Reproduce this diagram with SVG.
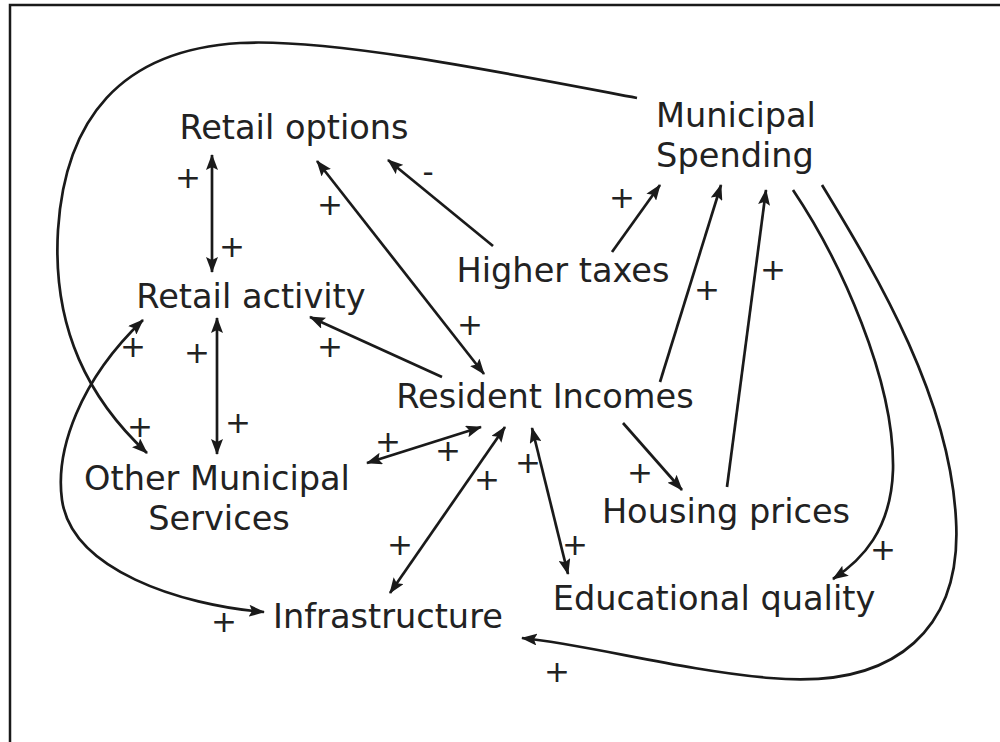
<svg xmlns="http://www.w3.org/2000/svg" width="1000" height="742" viewBox="0 0 1000 742">
  <style>
    .lbl { font-family: "DejaVu Sans", Verdana, sans-serif; font-size: 33.6px; fill: #222; text-anchor: middle; }
    .sgn { font-family: "DejaVu Sans", Verdana, sans-serif; font-size: 31px; fill: #222; text-anchor: middle; }
    .ln { fill: none; stroke: #1a1a1a; stroke-width: 2.7; }
    .one { marker-end: url(#ah); }
    .two { marker-start: url(#ah); marker-end: url(#ah); }
  </style>
  <defs>
    <marker id="ah" viewBox="0 0 16 12" refX="15" refY="6" markerWidth="16" markerHeight="12" markerUnits="userSpaceOnUse" orient="auto-start-reverse">
      <path d="M0,0 L16,6 L0,12 L3,6 Z" fill="#1a1a1a"/>
    </marker>
  </defs>

  <rect width="1000" height="742" fill="#fff"/>
  <!-- frame -->
  <path d="M10,742 L10,5 L1000,5" fill="none" stroke="#1a1a1a" stroke-width="2.5"/>

  <g id="connectors">
    <!-- Municipal Spending -> Other Municipal Services (outer loop) -->
    <path class="ln one" d="M637,98 C500,72 330,38 240,43 C120,50 65,120 58,230 C52,330 90,400 147,453"/>
    <!-- Retail activity <-> Infrastructure -->
    <path class="ln two" d="M143,320 C80,380 55,450 62,500 C72,570 180,605 264,612"/>
    <!-- Retail options <-> Retail activity -->
    <path class="ln two" d="M212,155 L212,272"/>
    <!-- Retail activity <-> Other Municipal Services -->
    <path class="ln two" d="M217,318 L217,454"/>
    <!-- Retail options <-> Resident Incomes -->
    <path class="ln two" d="M317,161 L484,374"/>
    <!-- Higher taxes -> Retail options -->
    <path class="ln one" d="M493,246 L388,160"/>
    <!-- Higher taxes -> Municipal Spending -->
    <path class="ln one" d="M612,252 L660,185"/>
    <!-- Resident Incomes -> Retail activity -->
    <path class="ln one" d="M442,377 L310,317"/>
    <!-- Resident Incomes -> Municipal Spending -->
    <path class="ln one" d="M660,382 L721,185"/>
    <!-- Housing prices -> Municipal Spending -->
    <path class="ln one" d="M727,487 L766,190"/>
    <!-- Municipal Spending -> Educational quality -->
    <path class="ln one" d="M793,190 C840,260 895,380 893,470 C891,530 862,560 833,579"/>
    <!-- Municipal Spending -> Infrastructure -->
    <path class="ln one" d="M822,185 C880,280 950,400 956,520 C962,625 900,690 770,678 C680,670 590,645 522,638"/>
    <!-- Resident Incomes <-> Other Municipal Services -->
    <path class="ln two" d="M367,463 L481,427"/>
    <!-- Resident Incomes <-> Infrastructure -->
    <path class="ln two" d="M505,427 L390,593"/>
    <!-- Resident Incomes <-> Educational quality -->
    <path class="ln two" d="M532,428 L568,574"/>
    <!-- Resident Incomes -> Housing prices -->
    <path class="ln one" d="M623,423 L682,490"/>
  </g>

  <g id="polarity">
    <text class="sgn" x="188" y="188">+</text>
    <text class="sgn" x="232" y="257">+</text>
    <text class="sgn" x="197" y="363">+</text>
    <text class="sgn" x="238" y="433">+</text>
    <text class="sgn" x="133" y="357">+</text>
    <text class="sgn" x="140" y="437">+</text>
    <text class="sgn" x="330" y="357">+</text>
    <text class="sgn" x="470" y="335">+</text>
    <text class="sgn" x="330" y="215">+</text>
    <text class="sgn" x="428" y="182">-</text>
    <text class="sgn" x="622" y="208">+</text>
    <text class="sgn" x="707" y="300">+</text>
    <text class="sgn" x="773" y="280">+</text>
    <text class="sgn" x="388" y="452">+</text>
    <text class="sgn" x="448" y="461">+</text>
    <text class="sgn" x="487" y="490">+</text>
    <text class="sgn" x="400" y="555">+</text>
    <text class="sgn" x="528" y="473">+</text>
    <text class="sgn" x="575" y="555">+</text>
    <text class="sgn" x="640" y="483">+</text>
    <text class="sgn" x="883" y="560">+</text>
    <text class="sgn" x="557" y="682">+</text>
    <text class="sgn" x="224" y="632">+</text>
  </g>

  <g id="retail-options"><text class="lbl" x="294" y="139">Retail options</text></g>
  <g id="municipal-spending">
    <text class="lbl" x="736" y="127">Municipal</text>
    <text class="lbl" x="735" y="167">Spending</text>
  </g>
  <g id="higher-taxes"><text class="lbl" x="563" y="282">Higher taxes</text></g>
  <g id="retail-activity"><text class="lbl" x="251" y="308">Retail activity</text></g>
  <g id="resident-incomes"><text class="lbl" x="545" y="408">Resident Incomes</text></g>
  <g id="other-municipal-services">
    <text class="lbl" x="217" y="490">Other Municipal</text>
    <text class="lbl" x="219" y="530">Services</text>
  </g>
  <g id="housing-prices"><text class="lbl" x="726" y="523">Housing prices</text></g>
  <g id="educational-quality"><text class="lbl" x="714" y="610">Educational quality</text></g>
  <g id="infrastructure"><text class="lbl" x="388" y="628">Infrastructure</text></g>
</svg>
